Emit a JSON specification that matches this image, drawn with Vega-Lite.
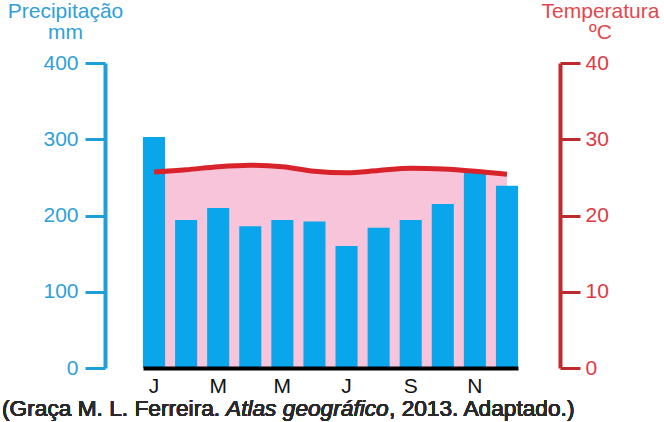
{
  "$schema": "https://vega.github.io/schema/vega-lite/v6.json",
  "width": 375,
  "height": 305,
  "autosize": {"type": "none"},
  "padding": {"left": 143, "top": 63, "right": 146, "bottom": 54},
  "background": "white",
  "config": {"view": {"stroke": null}, "font": "Liberation Sans"},
  "data": {"values": [
    {"month": "Jan", "precip": 303, "temp": 25.7},
    {"month": "Fev", "precip": 194, "temp": 26.0},
    {"month": "Mar", "precip": 210, "temp": 26.4},
    {"month": "Abr", "precip": 186, "temp": 26.6},
    {"month": "Mai", "precip": 194, "temp": 26.4},
    {"month": "Jun", "precip": 192, "temp": 25.8},
    {"month": "Jul", "precip": 160, "temp": 25.6},
    {"month": "Ago", "precip": 184, "temp": 25.9},
    {"month": "Set", "precip": 194, "temp": 26.2},
    {"month": "Out", "precip": 215, "temp": 26.1},
    {"month": "Nov", "precip": 256, "temp": 25.8},
    {"month": "Dez", "precip": 239, "temp": 25.4}
  ]},
  "layer": [
    {
      "mark": {"type": "area", "color": "#f7c4da", "interpolate": "monotone"},
      "encoding": {
        "x": {"field": "month", "type": "ordinal", "sort": null,
          "scale": {"paddingInner": 0.3125, "paddingOuter": 0},
          "axis": {"values": ["Jan", "Mar", "Mai", "Jul", "Set", "Nov"], "labelExpr": "substring(datum.label, 0, 1)",
            "title": null, "ticks": false, "domainColor": "#000000", "domainWidth": 4, "labelFontSize": 21,
            "labelColor": "#111111", "labelPadding": 7, "labelAngle": 0, "zindex": 1}},
        "y": {"field": "temp", "type": "quantitative", "scale": {"domain": [0, 40]},
          "axis": {"orient": "right", "offset": 42, "values": [0, 10, 20, 30, 40], "grid": false,
            "domainColor": "#bf2a2f", "domainWidth": 4, "tickColor": "#bf2a2f", "tickWidth": 3, "tickSize": 20,
            "labelColor": "#e03a3f", "labelFontSize": 21, "labelPadding": 5,
            "title": ["Temperatura", "ºC"], "titleAngle": 0, "titleAlign": "center", "titleBaseline": "alphabetic",
            "titleX": 40, "titleY": -46, "titleColor": "#e4474b", "titleFontSize": 21, "titleFontWeight": "normal",
            "titleLineHeight": 21}}
      }
    },
    {
      "mark": {"type": "bar", "color": "#0aa6ec"},
      "encoding": {
        "x": {"field": "month", "type": "ordinal", "sort": null},
        "y": {"field": "precip", "type": "quantitative", "scale": {"domain": [0, 400]},
          "axis": {"orient": "left", "offset": 38, "values": [0, 100, 200, 300, 400], "grid": false,
            "domainColor": "#1e9fd9", "domainWidth": 4, "tickColor": "#1e9fd9", "tickWidth": 3, "tickSize": 20,
            "labelColor": "#2fa0d8", "labelFontSize": 21, "labelPadding": 7,
            "title": ["Precipitação", "mm"], "titleAngle": 0, "titleAlign": "center", "titleBaseline": "alphabetic",
            "titleX": -40, "titleY": -46, "titleColor": "#2fa0d8", "titleFontSize": 21, "titleFontWeight": "normal",
            "titleLineHeight": 21}}
      }
    },
    {
      "mark": {"type": "line", "color": "#d8232a", "strokeWidth": 5, "interpolate": "monotone"},
      "encoding": {
        "x": {"field": "month", "type": "ordinal", "sort": null},
        "y": {"field": "temp", "type": "quantitative", "scale": {"domain": [0, 40]}, "axis": null}
      }
    },
    {
      "mark": {"type": "text", "text": "(Graça M. L. Ferreira.", "align": "left", "baseline": "alphabetic", "fontSize": 22.7, "color": "#2a2a2a", "dx": -152, "dy": 48},
      "encoding": {
        "x": {"datum": "Jan", "type": "ordinal"},
        "y": {"datum": 0, "type": "quantitative", "scale": {"domain": [0, 400]}, "axis": null}
      }
    },
    {
      "mark": {"type": "text", "text": "Atlas geográfico", "align": "left", "baseline": "alphabetic", "fontSize": 22.7, "fontStyle": "italic", "color": "#2a2a2a", "dx": 72, "dy": 48},
      "encoding": {
        "x": {"datum": "Jan", "type": "ordinal"},
        "y": {"datum": 0, "type": "quantitative", "scale": {"domain": [0, 400]}, "axis": null}
      }
    },
    {
      "mark": {"type": "text", "text": ", 2013. Adaptado.)", "align": "left", "baseline": "alphabetic", "fontSize": 22.7, "color": "#2a2a2a", "dx": 235, "dy": 48},
      "encoding": {
        "x": {"datum": "Jan", "type": "ordinal"},
        "y": {"datum": 0, "type": "quantitative", "scale": {"domain": [0, 400]}, "axis": null}
      }
    }
  ],
  "resolve": {"scale": {"y": "independent"}, "axis": {"y": "independent"}}
}
